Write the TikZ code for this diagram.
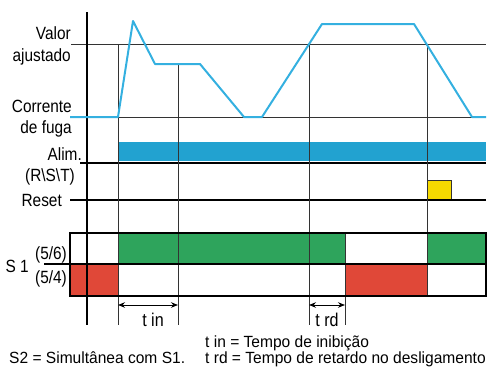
\documentclass[tikz,border=0pt]{standalone}
\usepackage{fontspec}
\setmainfont{Liberation Sans}
\newfontfamily\lblfont[FakeStretch=0.87]{Liberation Sans}
\newfontfamily\legfont[FakeStretch=0.96]{Liberation Sans}
\usetikzlibrary{arrows.meta}
\definecolor{wave}{RGB}{52,176,224}
\definecolor{alimblue}{RGB}{34,162,208}
\definecolor{sgreen}{RGB}{46,164,92}
\definecolor{sred}{RGB}{224,72,56}
\definecolor{syellow}{RGB}{246,218,0}
\tikzset{
  thinln/.style={draw=black!80,line width=0.9pt},
  thickln/.style={draw=black,line width=2pt},
  midln/.style={draw=black,line width=1.6pt},
  lbl/.style={font=\lblfont\fontsize{17.7}{18}\selectfont,inner sep=0pt,anchor=base east},
  dimtxt/.style={font=\lblfont\fontsize{18.5}{19}\selectfont,inner sep=0pt,anchor=base},
  txt/.style={font=\legfont\fontsize{16.2}{17}\selectfont,inner sep=0pt,anchor=base west},
  dim/.style={draw=black,line width=0.9pt,{Stealth[length=7pt,width=5.5pt]}-{Stealth[length=7pt,width=5.5pt]}}
}
\begin{document}
\begin{tikzpicture}[x=1pt,y=-1pt]
\useasboundingbox (0,0) rectangle (487,367);
% fills
\fill[alimblue] (118,142) rectangle (486,161);
\fill[syellow] (427,180) rectangle (451,200);
\draw[black!80,line width=0.9pt] (427,200) -- (427,180) -- (451,180) -- (451,200);
\fill[sgreen] (118,233) rectangle (345,264);
\fill[sgreen] (427,233) rectangle (486,264);
\fill[sred] (70,264) rectangle (118,296);
\fill[sred] (345,264) rectangle (427,296);
% horizontal reference lines
\draw[thinln] (71,44) -- (486,44);
\draw[thinln] (118,117) -- (486,117);
\draw[thickln] (80,163) -- (486,163);
\draw[midln] (70,200) -- (486,200);
% vertical thin lines
\draw[thinln] (118,44) -- (118,325);
\draw[thinln] (178,64) -- (178,325);
\draw[thinln] (309,44) -- (309,325);
\draw[thinln] (345,233) -- (345,325);
\draw[thinln] (427,44) -- (427,296);
% S1 box
\draw[thickln] (70,233) rectangle (486,296);
\draw[thickln] (44,264) -- (486,264);
% main axis
\draw[thickln] (87,12) -- (87,325);
% waveform
\draw[wave,line width=2pt,line join=round] (70,117) -- (118,117) -- (133,21) -- (155,64) -- (200,64) -- (244,117) -- (262,117) -- (322,24) -- (414,24) -- (472,117) -- (486,117);
% labels
\node[lbl] (valor) at (71,39) {Valor};
\node[lbl] (ajust) at (71,61) {ajustado};
\node[lbl] (corr) at (72,112) {Corrente};
\node[lbl] (fuga) at (72,133) {de fuga};
\node[lbl] (alim) at (82,160) {Alim.};
\node[lbl] (rst) at (75,181) {(R\textbackslash S\textbackslash T)};
\node[lbl] (reset) at (62,206) {Reset};
\node[lbl] (s1) at (29,272) {S 1};
\node[lbl] (p56) at (67,259) {(5/6)};
\node[lbl] (p54) at (67,283) {(5/4)};
% dimension arrows
\coordinate (tinA) at (118,305);
\coordinate (tinB) at (178,305);
\coordinate (trdA) at (309,305);
\coordinate (trdB) at (345,305);
\draw[dim] (tinA) -- (tinB);
\draw[dim] (trdA) -- (trdB);
\node[dimtxt] (tin) at (153,326) {t in};
\node[dimtxt] (trd) at (327,326) {t rd};
% legend
\node[txt] (l1) at (205,347) {t in = Tempo de inibição};
\node[txt] (l2) at (205,363) {t rd = Tempo de retardo no desligamento};
\node[txt] (l3) at (9,363) {S2 = Simultânea com S1.};
\end{tikzpicture}
\end{document}
